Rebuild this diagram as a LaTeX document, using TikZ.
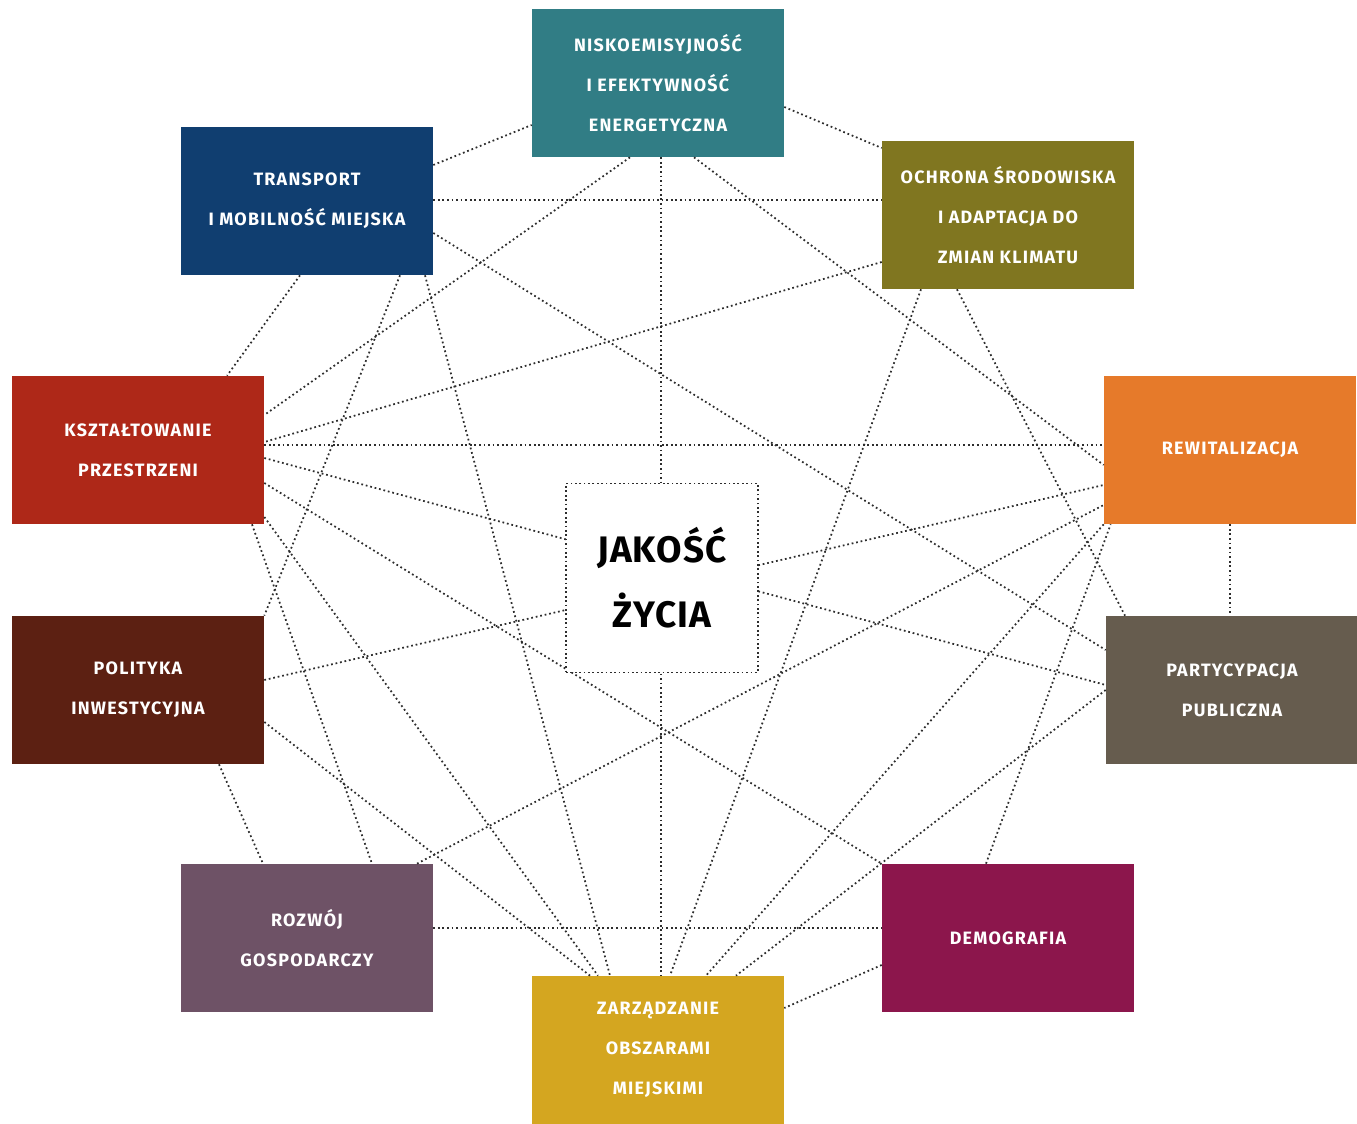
\documentclass[tikz,border=0pt]{standalone}
\usepackage{fontspec}
\setmainfont{Fira Sans}
\newfontfamily\boxfont{Fira Sans}[LetterSpace=7]
\newfontfamily\hubfont{Fira Sans}[LetterSpace=3]
\usetikzlibrary{calc, positioning}
\definecolor{myteal}{RGB}{49,125,133}
\definecolor{myblue}{RGB}{16,62,112}
\definecolor{myolive}{RGB}{128,118,32}
\definecolor{myred}{RGB}{174,40,24}
\definecolor{myorange}{RGB}{230,122,42}
\definecolor{mybrown}{RGB}{92,32,18}
\definecolor{mygrey}{RGB}{102,92,78}
\definecolor{mymauve}{RGB}{110,82,102}
\definecolor{mymagenta}{RGB}{140,22,76}
\definecolor{myyellow}{RGB}{212,166,32}
\definecolor{mydot}{RGB}{45,45,45}
\tikzset{
  box/.style={rectangle, minimum width=5.04cm, minimum height=2.96cm,
    inner sep=0pt, text=white, align=center,
    font=\boxfont\fontsize{10.2}{22.8}\selectfont\bfseries},
  hub/.style={rectangle, draw=mydot, fill=white, line width=1pt,
    dash pattern=on 1pt off 1.5pt,
    minimum width=3.84cm, minimum height=3.78cm, inner sep=0pt,
    align=center, font=\hubfont\fontsize{21}{37}\selectfont\bfseries},
  link/.style={line width=1pt, color=mydot, dash pattern=on 1pt off 1.6pt}
}
\begin{document}
\begin{tikzpicture}[x=0.02cm, y=-0.02cm]
  \useasboundingbox (0,0) rectangle (1357,1124);

  % Ring of themes
  \node[box, fill=myteal]    (nisko)     at (658,83)   {NISKOEMISYJNOŚĆ\\I EFEKTYWNOŚĆ\\ENERGETYCZNA};
  \node[box, fill=myblue]    (transport) at (307,201)  {TRANSPORT\\I MOBILNOŚĆ MIEJSKA};
  \node[box, fill=myolive]   (ochrona)   at (1008,215) {OCHRONA ŚRODOWISKA\\I ADAPTACJA DO\\ZMIAN KLIMATU};
  \node[box, fill=myred]     (ksztalt)   at (138,450)  {KSZTAŁTOWANIE\\PRZESTRZENI};
  \node[box, fill=myorange]  (rewit)     at (1230,450) {REWITALIZACJA};
  \node[box, fill=mybrown]   (polityka)  at (138,690)  {POLITYKA\\INWESTYCYJNA};
  \node[box, fill=mygrey]    (partycyp)  at (1232,690) {PARTYCYPACJA\\PUBLICZNA};
  \node[box, fill=mymauve]   (rozwoj)    at (307,938)  {ROZWÓJ\\GOSPODARCZY};
  \node[box, fill=mymagenta] (demograf)  at (1008,938) {DEMOGRAFIA};
  \node[box, fill=myyellow]  (zarzad)    at (658,1050) {ZARZĄDZANIE\\OBSZARAMI\\MIEJSKIMI};

  % Dotted links
  \draw[link] ($(transport.east)+(0,-36)$) -- ($(nisko.west)+(0,42)$);
  \draw[link] ($(nisko.east)+(0,24)$) -- ($(ochrona.west)+(0,-67)$);
  \draw[link] ($(transport.east)+(0,-1)$) -- ($(ochrona.west)+(0,-15)$);
  \draw[link] ($(nisko.south)+(3,0)$) -- ($(zarzad.north)+(3,0)$);
  \draw[link] ($(nisko.south)+(-28,0)$) -- ($(ksztalt.east)+(0,-35)$);
  \draw[link] ($(nisko.south)+(36,0)$) -- ($(rewit.west)+(0,15)$);
  \draw[link] ($(transport.east)+(0,32)$) -- ($(partycyp.west)+(0,-40)$);
  \draw[link] ($(transport.south)+(-7,0)$) -- ($(ksztalt.north)+(89,0)$);
  \draw[link] ($(transport.south)+(93,0)$) -- (polityka.north east);
  \draw[link] ($(transport.south)+(118,0)$) -- ($(zarzad.north)+(-48,0)$);
  \draw[link] ($(ochrona.west)+(0,47)$) -- ($(ksztalt.east)+(0,-8)$);
  \draw[link] ($(ochrona.south)+(-87,0)$) -- ($(zarzad.north)+(12,0)$);
  \draw[link] ($(ochrona.south)+(-51,0)$) -- ($(partycyp.north)+(-107,0)$);
  \draw[link] ($(ksztalt.east)+(0,-5)$) -- ($(rewit.west)+(0,-5)$);
  \draw[link] ($(ksztalt.east)+(0,8)$) -- ($(partycyp.west)+(0,-5)$);
  \draw[link] ($(ksztalt.east)+(0,33)$) -- (demograf.north west);
  \draw[link] ($(ksztalt.east)+(0,67)$) -- ($(zarzad.north)+(-60,0)$);
  \draw[link] ($(ksztalt.south)+(114,0)$) -- ($(rozwoj.north)+(65,0)$);
  \draw[link] ($(polityka.east)+(0,-10)$) -- ($(rewit.west)+(0,35)$);
  \draw[link] ($(polityka.east)+(0,32)$) -- ($(zarzad.north)+(-68,0)$);
  \draw[link] ($(polityka.south)+(81,0)$) -- ($(rozwoj.north)+(-44,0)$);
  \draw[link] ($(rozwoj.north)+(110,0)$) -- ($(rewit.west)+(0,55)$);
  \draw[link] ($(rozwoj.east)+(0,-10)$) -- ($(demograf.west)+(0,-10)$);
  \draw[link] ($(demograf.west)+(0,27)$) -- ($(zarzad.east)+(0,-42)$);
  \draw[link] ($(demograf.north)+(-22,0)$) -- ($(rewit.south west)+(7,0)$);
  \draw[link] (rewit.south) -- ($(partycyp.north)+(-2,0)$);
  \draw[link] (rewit.south west) -- ($(zarzad.north)+(48,0)$);
  \draw[link] (partycyp.west) -- ($(zarzad.north)+(78,0)$);

  % Centre on top of the links
  \node[hub] (jakosc) at (662,578) {JAKOŚĆ\\ŻYCIA};
\end{tikzpicture}
\end{document}
